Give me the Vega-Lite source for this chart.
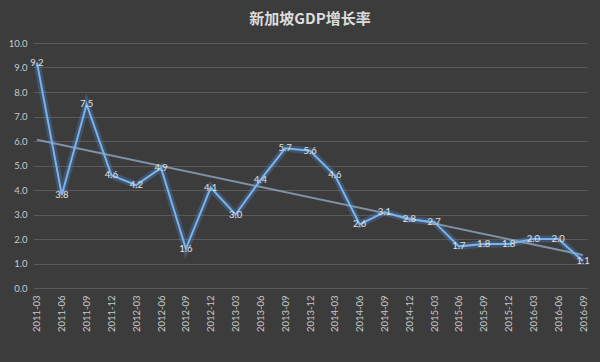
{
  "$schema": "https://vega.github.io/schema/vega-lite/v6.json",
  "autosize": "none",
  "width": 554,
  "height": 245,
  "padding": {"left": 33, "top": 43, "right": 13, "bottom": 74},
  "background": "#3c3c3c",
  "title": {"text": "新加坡GDP增长率", "anchor": "middle", "offset": 11, "font": "Noto Sans CJK SC", "fontSize": 15, "fontWeight": "bold", "color": "#dcdcdc"},
  "config": {
    "view": {"stroke": null},
    "axis": {"labelFont": "Lato", "labelColor": "#c8c8c8", "labelFontSize": 9.5, "domain": false, "ticks": false, "title": null}
  },
  "datasets": {
    "gdp": [
      {"quarter": "2011-03", "rate": 9.2},
      {"quarter": "2011-06", "rate": 3.8},
      {"quarter": "2011-09", "rate": 7.5},
      {"quarter": "2011-12", "rate": 4.6},
      {"quarter": "2012-03", "rate": 4.2},
      {"quarter": "2012-06", "rate": 4.9},
      {"quarter": "2012-09", "rate": 1.6},
      {"quarter": "2012-12", "rate": 4.1},
      {"quarter": "2013-03", "rate": 3.0},
      {"quarter": "2013-06", "rate": 4.4},
      {"quarter": "2013-09", "rate": 5.7},
      {"quarter": "2013-12", "rate": 5.6},
      {"quarter": "2014-03", "rate": 4.6},
      {"quarter": "2014-06", "rate": 2.6},
      {"quarter": "2014-09", "rate": 3.1},
      {"quarter": "2014-12", "rate": 2.8},
      {"quarter": "2015-03", "rate": 2.7},
      {"quarter": "2015-06", "rate": 1.7},
      {"quarter": "2015-09", "rate": 1.8},
      {"quarter": "2015-12", "rate": 1.8},
      {"quarter": "2016-03", "rate": 2.0},
      {"quarter": "2016-06", "rate": 2.0},
      {"quarter": "2016-09", "rate": 1.1}
    ],
    "trend": [
      {"quarter": "2011-03", "rate": 6.05},
      {"quarter": "2016-09", "rate": 1.35}
    ]
  },
  "encoding": {
    "x": {"field": "quarter", "type": "ordinal", "sort": null,
      "scale": {"type": "point", "padding": 0.16},
      "axis": {"labelAngle": -90, "labelPadding": 7, "grid": false}},
    "y": {"field": "rate", "type": "quantitative",
      "scale": {"domain": [0, 10], "nice": false},
      "axis": {"values": [0,1,2,3,4,5,6,7,8,9,10], "format": ".1f", "labelPadding": 6, "grid": true, "gridColor": "#5a5a5a", "gridWidth": 1}}
  },
  "layer": [
    {"data": {"name": "gdp"}, "mark": {"type": "line", "color": "#4f8fd8", "strokeWidth": 7, "opacity": 0.3}},
    {"data": {"name": "trend"}, "mark": {"type": "line", "color": "#8fa6c0", "strokeWidth": 2, "opacity": 0.8}},
    {"data": {"name": "gdp"}, "mark": {"type": "line", "color": "#7ab4ee", "strokeWidth": 2}},
    {"data": {"name": "gdp"}, "mark": {"type": "text", "font": "Lato", "fontSize": 9.5, "color": "#e0e0e0", "baseline": "middle", "align": "center"},
      "encoding": {"text": {"field": "rate", "type": "quantitative", "format": ".1f"}}}
  ]
}
